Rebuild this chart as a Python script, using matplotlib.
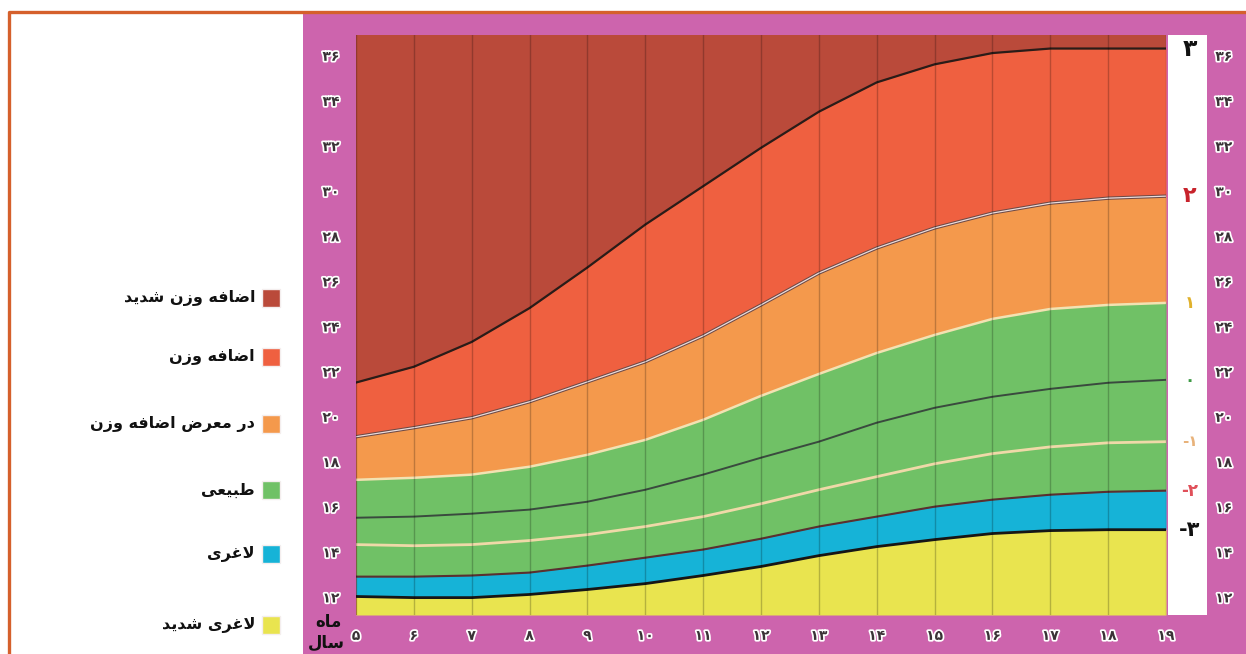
import matplotlib
matplotlib.use("Agg")
import matplotlib.pyplot as plt
import matplotlib.patheffects as pe
from matplotlib.patches import Rectangle
from matplotlib.lines import Line2D

# BMI-for-age reference curves (z-score lines)
AGES = [5, 6, 7, 8, 9, 10, 11, 12, 13, 14, 15, 16, 17, 18, 19]
SD_P3 = [21.5, 22.2, 23.3, 24.8, 26.6, 28.5, 30.2, 31.9, 33.5, 34.8, 35.6, 36.1, 36.3, 36.3, 36.3]
SD_P2 = [19.1, 19.5, 19.94, 20.65, 21.53, 22.42, 23.57, 24.94, 26.35, 27.46, 28.35, 29.01, 29.45, 29.67, 29.76]
SD_P1 = [17.19, 17.28, 17.42, 17.77, 18.3, 18.96, 19.85, 20.91, 21.88, 22.81, 23.61, 24.32, 24.76, 24.94, 25.03]
SD_0 = [15.51, 15.56, 15.69, 15.87, 16.22, 16.75, 17.42, 18.17, 18.88, 19.72, 20.38, 20.87, 21.22, 21.49, 21.62]
SD_M1 = [14.32, 14.27, 14.32, 14.5, 14.76, 15.12, 15.56, 16.13, 16.75, 17.33, 17.9, 18.35, 18.65, 18.83, 18.88]
SD_M2 = [12.9, 12.9, 12.95, 13.08, 13.39, 13.74, 14.1, 14.58, 15.12, 15.56, 16.0, 16.31, 16.53, 16.66, 16.71]
SD_M3 = [12.02, 11.97, 11.97, 12.11, 12.33, 12.59, 12.95, 13.35, 13.83, 14.23, 14.54, 14.81, 14.94, 14.98, 14.98]

BMI_TICKS = list(range(12, 37, 2))
Z_LABELS = ["3", "2", "1", "0", "-1", "-2", "-3"]

LEGEND_LABELS = [
    "اضافه وزن شدید",
    "اضافه وزن",
    "در معرض اضافه وزن",
    "طبیعی",
    "لاغری",
    "لاغری شدید",
]

C_SEVERE_OVER = "#BA4A3A"
C_OVER = "#EF6040"
C_RISK = "#F4994C"
C_NORMAL = "#70C166"
C_THIN = "#16B3D7"
C_SEVERE_THIN = "#E9E44F"
C_PINK = "#CD64AD"
C_BORDER = "#D5602C"

YMIN, YMAX = 11.2, 36.9

# presentation forms: isolated, final, initial, medial
FORMS = {
    "ا": ("\uFE8D", "\uFE8E", None, None),
    "ب": ("\uFE8F", "\uFE90", "\uFE91", "\uFE92"),
    "د": ("\uFEA9", "\uFEAA", None, None),
    "ر": ("\uFEAD", "\uFEAE", None, None),
    "ز": ("\uFEAF", "\uFEB0", None, None),
    "س": ("\uFEB1", "\uFEB2", "\uFEB3", "\uFEB4"),
    "ش": ("\uFEB5", "\uFEB6", "\uFEB7", "\uFEB8"),
    "ض": ("\uFEBD", "\uFEBE", "\uFEBF", "\uFEC0"),
    "ط": ("\uFEC1", "\uFEC2", "\uFEC3", "\uFEC4"),
    "ع": ("\uFEC9", "\uFECA", "\uFECB", "\uFECC"),
    "غ": ("\uFECD", "\uFECE", "\uFECF", "\uFED0"),
    "ف": ("\uFED1", "\uFED2", "\uFED3", "\uFED4"),
    "ل": ("\uFEDD", "\uFEDE", "\uFEDF", "\uFEE0"),
    "م": ("\uFEE1", "\uFEE2", "\uFEE3", "\uFEE4"),
    "ن": ("\uFEE5", "\uFEE6", "\uFEE7", "\uFEE8"),
    "ه": ("\uFEE9", "\uFEEA", "\uFEEB", "\uFEEC"),
    "و": ("\uFEED", "\uFEEE", None, None),
    "ی": ("\uFEEF", "\uFEF0", "\uFEF3", "\uFEF4"),
    "لا": ("\uFEFB", "\uFEFC", None, None),
}
NON_LEFT = {"ا", "د", "ر", "ز", "و", "لا"}

FA_DIGITS = str.maketrans("0123456789", "۰۱۲۳۴۵۶۷۸۹")


def fa(n):
    return str(n).translate(FA_DIGITS)


def shape(text):
    chars = []
    i = 0
    while i < len(text):
        if text[i] == "ل" and i + 1 < len(text) and text[i + 1] == "ا":
            chars.append("لا")
            i += 2
        else:
            chars.append(text[i])
            i += 1
    out = []
    for k, c in enumerate(chars):
        if c not in FORMS:
            out.append(c)
            continue
        prev = chars[k - 1] if k > 0 else None
        nxt = chars[k + 1] if k + 1 < len(chars) else None
        jp = prev in FORMS and prev not in NON_LEFT
        jn = nxt in FORMS and c not in NON_LEFT
        iso, fin, ini, med = FORMS[c]
        if jp and jn:
            out.append(med)
        elif jp:
            out.append(fin)
        elif jn:
            out.append(ini)
        else:
            out.append(iso)
    return "".join(reversed(out))


W, H = 1246, 654
fig = plt.figure(figsize=(W / 100, H / 100), dpi=100)
fig.patch.set_facecolor("white")

# pink board and orange frame
fig.add_artist(Rectangle((303 / W, 0), 1 - 303 / W, 1 - 13 / H, transform=fig.transFigure,
                         facecolor=C_PINK, edgecolor="none", zorder=0))
fig.add_artist(Line2D([9 / W, 9 / W, 1], [0, 1 - 12 / H, 1 - 12 / H], transform=fig.transFigure,
                      color=C_BORDER, lw=2.4, zorder=5))

ax = fig.add_axes([356 / W, 1 - 615 / H, (1166 - 356) / W, (615 - 35) / H])
ax.set_facecolor(C_SEVERE_OVER)
ax.fill_between(AGES, SD_P2, SD_P3, color=C_OVER, lw=0)
ax.fill_between(AGES, SD_P1, SD_P2, color=C_RISK, lw=0)
ax.fill_between(AGES, SD_M2, SD_P1, color=C_NORMAL, lw=0)
ax.fill_between(AGES, SD_M3, SD_M2, color=C_THIN, lw=0)
ax.fill_between(AGES, YMIN, SD_M3, color=C_SEVERE_THIN, lw=0)

ax.plot(AGES, SD_P3, color="#2a1c18", lw=1.6)
ax.plot(AGES, SD_P2, color="#6e4a46", lw=2.4)
ax.plot(AGES, SD_P2, color="#eadcdc", lw=0.9)
ax.plot(AGES, SD_P1, color="#f2e2b2", lw=1.8)
ax.plot(AGES, SD_0, color="#3a4a3e", lw=1.4)
ax.plot(AGES, SD_M1, color="#efd9a8", lw=2.0)
ax.plot(AGES, SD_M2, color="#5a3030", lw=1.5)
ax.plot(AGES, SD_M3, color="#161616", lw=2.0)

ax.set_xlim(AGES[0], AGES[-1])
ax.set_ylim(YMIN, YMAX)
ax.set_xticks(AGES)
ax.set_yticks(BMI_TICKS)
ax.grid(axis="x", color="black", alpha=0.22, lw=1.0)
ax.set_axisbelow(False)
for s in ax.spines.values():
    s.set_visible(False)

halo = [pe.withStroke(linewidth=2.5, foreground="white")]
tick_font = dict(family="DejaVu Sans", fontsize=10, fontweight="bold", color="#3a3236")
ax.set_xticklabels([fa(a) for a in AGES], **tick_font)
ax.set_yticklabels([fa(b) for b in BMI_TICKS], **tick_font)
ax.tick_params(length=0, pad=10)
ax.tick_params(axis="y", pad=12)
for t in ax.get_xticklabels() + ax.get_yticklabels():
    t.set_path_effects(halo)

# white strip with z-scores
zax = fig.add_axes([1168 / W, 1 - 615 / H, 39 / W, (615 - 35) / H])
zax.set_facecolor("white")
zax.set_ylim(YMIN, YMAX)
zax.set_xlim(0, 1)
zax.set_xticks([])
zax.yaxis.tick_right()
zax.set_yticks(BMI_TICKS)
zax.set_yticklabels([fa(b) for b in BMI_TICKS], **tick_font)
zax.tick_params(length=0, pad=6)
for t in zax.get_yticklabels():
    t.set_path_effects(halo)
for s in zax.spines.values():
    s.set_visible(False)

z_ends = [SD_P3[-1], SD_P2[-1], SD_P1[-1], SD_0[-1], SD_M1[-1], SD_M2[-1], SD_M3[-1]]
z_colors = ["#111111", "#C8232C", "#E0B12C", "#3E9A45", "#E8B27A", "#E0505A", "#111111"]
z_sizes = [17, 16, 12, 12, 11, 12, 15]
for lab, yv, col, sz in zip(Z_LABELS, z_ends, z_colors, z_sizes):
    zax.text(0.55, yv, fa(lab), color=col, fontsize=sz, fontweight="bold",
             family="DejaVu Sans", ha="center", va="center")

# month / year label
fig.text(328 / W, 1 - 622 / H, shape("ماه"), family="DejaVu Sans", fontsize=12,
         fontweight="bold", ha="center", va="center", color="#111111")
fig.text(326 / W, 1 - 643 / H, shape("سال"), family="DejaVu Sans", fontsize=12,
         fontweight="bold", ha="center", va="center", color="#111111")

# legend
legend_colors = [C_SEVERE_OVER, C_OVER, C_RISK, C_NORMAL, C_THIN, C_SEVERE_THIN]
legend_rows = [298, 357, 424, 490, 554, 625]
for lab, col, yp in zip(LEGEND_LABELS, legend_colors, legend_rows):
    fig.add_artist(Rectangle(((262) / W, 1 - (yp + 9) / H), 18 / W, 18 / H,
                             transform=fig.transFigure, facecolor=col,
                             edgecolor="#f4eeee", lw=1.0, zorder=3))
    fig.text(255 / W, 1 - yp / H, shape(lab), family="DejaVu Sans", fontsize=11.5,
             fontweight="bold", ha="right", va="center", color="#111111")

fig.savefig("out.png", dpi=100)
